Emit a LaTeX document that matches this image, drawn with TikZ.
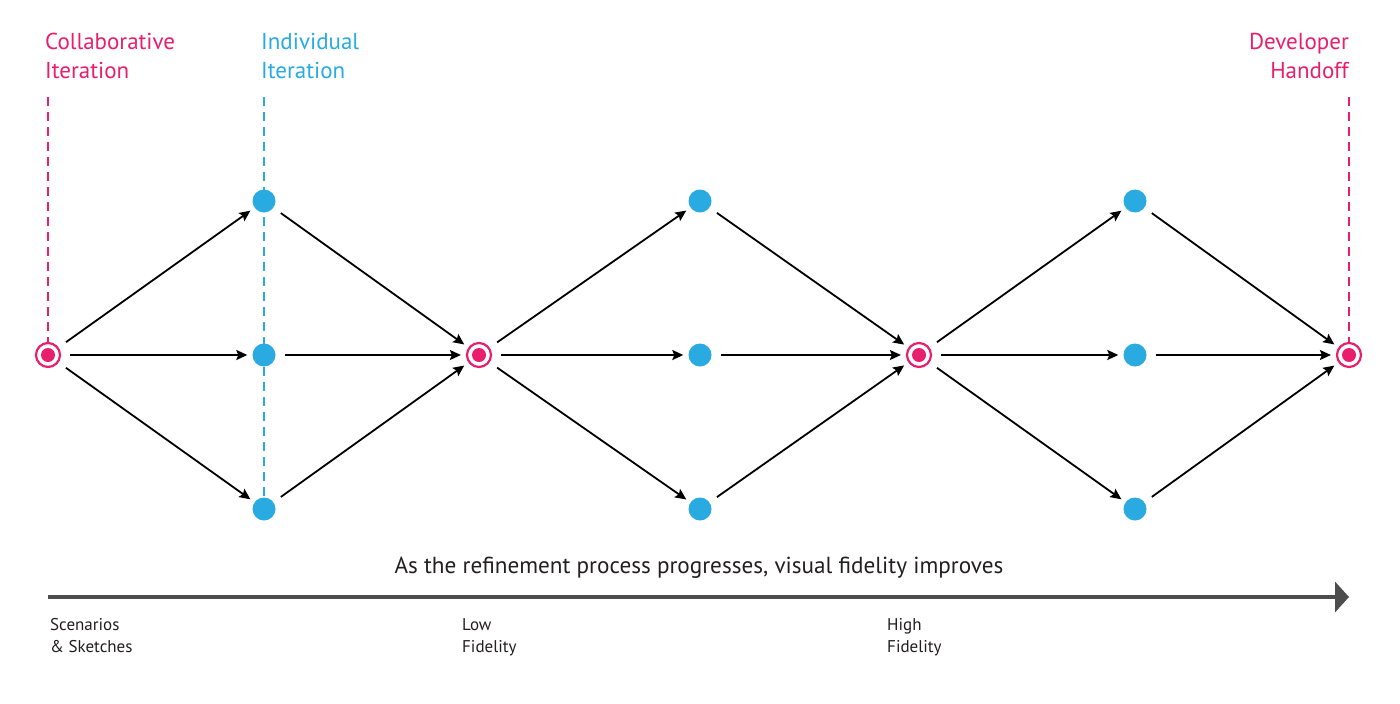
\documentclass[tikz,border=0pt]{standalone}
\usepackage{fontspec}
\setmainfont{PT Sans}
\usetikzlibrary{arrows.meta}
\definecolor{pinkc}{RGB}{232,30,110}
\definecolor{bluec}{RGB}{41,171,226}
\definecolor{grayc}{RGB}{77,77,77}
\definecolor{textc}{RGB}{35,31,32}
\begin{document}
\begin{tikzpicture}[x=1pt,y=-1pt,
  pinknode/.style={circle, draw=pinkc, line width=2.2pt, fill=white, minimum size=24pt, inner sep=0pt,
    path picture={\fill[pinkc] (path picture bounding box.center) circle (7pt);}},
  bluenode/.style={circle, fill=bluec, minimum size=23pt, inner sep=0pt},
  arr/.style={draw=black, line width=1.8pt, shorten <=9pt, shorten >=5pt, -{Stealth[length=11pt,width=10pt,inset=2pt]}},
  pinkdash/.style={draw=pinkc, line width=2pt, dash pattern=on 9pt off 6pt},
  bluedash/.style={draw=bluec, line width=2pt, dash pattern=on 9pt off 6pt},
  toplabel/.style={inner sep=0pt, font=\fontsize{23}{29}\selectfont},
  botlabel/.style={inner sep=0pt, anchor=north west, align=left, text=textc, font=\fontsize{17}{22}\selectfont},
]
\useasboundingbox (0,0) rectangle (1400,704);
\fill[white] (0,0) rectangle (1400,704);

% coordinates
\coordinate (d1) at (48,97);
\coordinate (d2) at (264,97);
\coordinate (d3) at (1349,97);

% dashed guide lines (behind nodes)
\draw[pinkdash] (d1) -- (48,355);
\draw[bluedash] (d2) -- (264,509);
\draw[pinkdash] (d3) -- (1349,355);

% nodes
\node[pinknode] (p1) at (48,355) {};
\node[pinknode] (p2) at (479,355) {};
\node[pinknode] (p3) at (919,355) {};
\node[pinknode] (p4) at (1349,355) {};

\node[bluenode] (a1) at (264,201) {};
\node[bluenode] (a2) at (264,355) {};
\node[bluenode] (a3) at (264,509) {};
\node[bluenode] (b1) at (700,201) {};
\node[bluenode] (b2) at (700,355) {};
\node[bluenode] (b3) at (700,509) {};
\node[bluenode] (c1) at (1135,201) {};
\node[bluenode] (c2) at (1135,355) {};
\node[bluenode] (c3) at (1135,509) {};

% connectors
\foreach \s/\m/\e in {p1/a/p2, p2/b/p3, p3/c/p4}{
  \foreach \i in {1,2,3}{
    \draw[arr] (\s) -- (\m\i);
    \draw[arr] (\m\i) -- (\e);
  }
}

% top labels
\node[toplabel, anchor=north west, align=left, text=pinkc] (l1) at (45,33) {Collaborative\\Iteration};
\node[toplabel, anchor=north west, align=left, text=bluec] (l2) at (261,33) {Individual\\Iteration};
\node[toplabel, anchor=north east, align=right, text=pinkc] (l3) at (1349,33) {Developer\\Handoff};

% progress arrow
\coordinate (g0) at (48,597);
\coordinate (g1) at (1349,597);
\draw[grayc, line width=4.5pt, -{Triangle[length=14pt,width=30pt]}] (g0) -- (g1);

\node[inner sep=0pt, anchor=base, text=textc, font=\fontsize{23.2}{27}\selectfont] (title) at (699,573) {As the refinement process progresses, visual fidelity improves};

% bottom labels
\node[botlabel] (s1) at (50,618) {Scenarios\\\& Sketches};
\node[botlabel] (s2) at (462,618) {Low\\Fidelity};
\node[botlabel] (s3) at (887,618) {High\\Fidelity};
\end{tikzpicture}
\end{document}
